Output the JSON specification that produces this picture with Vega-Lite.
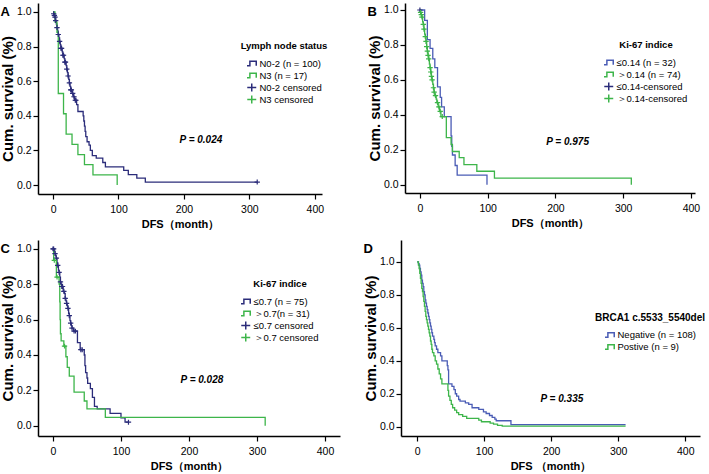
{
"$schema": "https://vega.github.io/schema/vega-lite/v6.json",
"padding": {"left": 0, "top": 3, "right": 0, "bottom": 0},
"background": "white",
"config": {
  "font": "Liberation Sans",
  "view": {"stroke": null},
  "axis": {"grid": false, "domainColor": "#000", "domainWidth": 1.5, "tickColor": "#000", "tickWidth": 1.2, "tickSize": 5, "labelColor": "#000", "labelFontSize": 10.5, "labelFont": "Liberation Sans", "titleFont": "Liberation Sans", "titleColor": "#000", "titleFontWeight": "bold", "labelOverlap": false},
  "axisX": {"titleFontSize": 11, "titlePadding": 4, "labelPadding": 5},
  "axisY": {"titleFontSize": 15, "titlePadding": 1, "labelPadding": 2},
  "legend": {"titleFontSize": 9.5, "titleFontWeight": "bold", "titleColor": "#000", "labelFontSize": 9.5, "labelColor": "#000", "symbolSize": 56, "symbolStrokeWidth": 1.5, "rowPadding": 2, "clipHeight": 10, "titleAnchor": "middle", "titlePadding": 8, "labelOffset": 3, "padding": 0},
  "title": {"fontSize": 13, "fontWeight": "bold", "color": "#000", "anchor": "start", "frame": "bounds"}
},
"spacing": 10,
"resolve": {"scale": {"color": "independent", "shape": "independent"}, "legend": {"color": "independent", "shape": "independent"}},
"vconcat": [
{"spacing": 39,
 "resolve": {"scale": {"color": "independent", "shape": "independent"}, "legend": {"color": "independent", "shape": "independent"}},
 "hconcat": [
{
  "width": 284, "height": 191,
  "title": {"text": "A", "offset": -16},
  "layer": [
    {"data": {"values": [
      {"series":"N0-2 (n = 100)","t":0,"s":1},{"series":"N0-2 (n = 100)","t":1,"s":0.99},{"series":"N0-2 (n = 100)","t":2,"s":0.98},{"series":"N0-2 (n = 100)","t":3,"s":0.97},{"series":"N0-2 (n = 100)","t":4,"s":0.95},{"series":"N0-2 (n = 100)","t":5,"s":0.93},{"series":"N0-2 (n = 100)","t":6,"s":0.91},{"series":"N0-2 (n = 100)","t":7,"s":0.89},{"series":"N0-2 (n = 100)","t":8,"s":0.87},{"series":"N0-2 (n = 100)","t":9,"s":0.85},{"series":"N0-2 (n = 100)","t":10,"s":0.83},{"series":"N0-2 (n = 100)","t":11,"s":0.81},{"series":"N0-2 (n = 100)","t":12,"s":0.79},{"series":"N0-2 (n = 100)","t":14,"s":0.77},{"series":"N0-2 (n = 100)","t":15,"s":0.75},{"series":"N0-2 (n = 100)","t":17,"s":0.73},{"series":"N0-2 (n = 100)","t":18,"s":0.71},{"series":"N0-2 (n = 100)","t":20,"s":0.69},{"series":"N0-2 (n = 100)","t":21,"s":0.67},{"series":"N0-2 (n = 100)","t":22,"s":0.65},{"series":"N0-2 (n = 100)","t":23,"s":0.63},{"series":"N0-2 (n = 100)","t":24,"s":0.61},{"series":"N0-2 (n = 100)","t":25,"s":0.59},{"series":"N0-2 (n = 100)","t":26,"s":0.57},{"series":"N0-2 (n = 100)","t":27,"s":0.55},{"series":"N0-2 (n = 100)","t":29,"s":0.53},{"series":"N0-2 (n = 100)","t":31,"s":0.51},{"series":"N0-2 (n = 100)","t":33,"s":0.49},{"series":"N0-2 (n = 100)","t":36,"s":0.465},{"series":"N0-2 (n = 100)","t":38,"s":0.425},{"series":"N0-2 (n = 100)","t":46,"s":0.4},{"series":"N0-2 (n = 100)","t":47,"s":0.37},{"series":"N0-2 (n = 100)","t":48,"s":0.34},{"series":"N0-2 (n = 100)","t":49,"s":0.31},{"series":"N0-2 (n = 100)","t":50,"s":0.28},{"series":"N0-2 (n = 100)","t":52,"s":0.25},{"series":"N0-2 (n = 100)","t":55,"s":0.23},{"series":"N0-2 (n = 100)","t":57,"s":0.2},{"series":"N0-2 (n = 100)","t":60,"s":0.17},{"series":"N0-2 (n = 100)","t":66,"s":0.155},{"series":"N0-2 (n = 100)","t":76,"s":0.13},{"series":"N0-2 (n = 100)","t":80,"s":0.105},{"series":"N0-2 (n = 100)","t":108,"s":0.085},{"series":"N0-2 (n = 100)","t":115,"s":0.06},{"series":"N0-2 (n = 100)","t":128,"s":0.04},{"series":"N0-2 (n = 100)","t":141,"s":0.017},{"series":"N0-2 (n = 100)","t":312,"s":0.017},
      {"series":"N3 (n = 17)","t":0,"s":1},{"series":"N3 (n = 17)","t":3,"s":0.941},{"series":"N3 (n = 17)","t":6,"s":0.882},{"series":"N3 (n = 17)","t":8,"s":0.529},{"series":"N3 (n = 17)","t":16,"s":0.412},{"series":"N3 (n = 17)","t":20,"s":0.294},{"series":"N3 (n = 17)","t":29,"s":0.235},{"series":"N3 (n = 17)","t":38,"s":0.176},{"series":"N3 (n = 17)","t":48,"s":0.118},{"series":"N3 (n = 17)","t":61,"s":0.059},{"series":"N3 (n = 17)","t":98,"s":0}
    ]},
    "mark": {"type": "line", "interpolate": "step-after", "strokeWidth": 1.3},
    "encoding": {
      "x": {"field": "t", "type": "quantitative", "scale": {"domain": [-23, 411], "nice": false, "zero": false}, "axis": {"values": [0,100,200,300,400], "title": "DFS（month）"}},
      "y": {"field": "s", "type": "quantitative", "scale": {"domain": [-0.052, 1.052], "nice": false, "zero": false}, "axis": {"tickCount": 5, "format": ".1f", "title": "Cum. survival (%)"}},
      "color": {"field": "series", "type": "nominal", "scale": {"domain": ["N0-2 (n = 100)","N3 (n = 17)","N0-2 censored","N3 censored"], "range": ["#2b2c7a","#3db54a","#2b2c7a","#3db54a"]}, "legend": {"title": "Lymph node status", "orient": "none", "legendX": 203, "legendY": 38}}
    }},
    {"data": {"values": [
      {"series":"N0-2 censored","t":1,"s":0.99},{"series":"N0-2 censored","t":2,"s":0.98},{"series":"N0-2 censored","t":3,"s":0.97},{"series":"N0-2 censored","t":4,"s":0.95},{"series":"N0-2 censored","t":6,"s":0.91},{"series":"N0-2 censored","t":8,"s":0.87},{"series":"N0-2 censored","t":10,"s":0.83},{"series":"N0-2 censored","t":12,"s":0.79},{"series":"N0-2 censored","t":13,"s":0.79},{"series":"N0-2 censored","t":15,"s":0.75},{"series":"N0-2 censored","t":16,"s":0.75},{"series":"N0-2 censored","t":18,"s":0.71},{"series":"N0-2 censored","t":19,"s":0.71},{"series":"N0-2 censored","t":21,"s":0.67},{"series":"N0-2 censored","t":23,"s":0.63},{"series":"N0-2 censored","t":25,"s":0.59},{"series":"N0-2 censored","t":27,"s":0.55},{"series":"N0-2 censored","t":28,"s":0.55},{"series":"N0-2 censored","t":30,"s":0.53},{"series":"N0-2 censored","t":32,"s":0.51},{"series":"N0-2 censored","t":34,"s":0.49},{"series":"N0-2 censored","t":35,"s":0.49},{"series":"N0-2 censored","t":312,"s":0.017}
    ]},
    "mark": {"type": "point", "filled": false, "strokeWidth": 1.2, "size": 20, "opacity": 1},
    "encoding": {
      "x": {"field": "t", "type": "quantitative"},
      "y": {"field": "s", "type": "quantitative"},
      "color": {"field": "series", "type": "nominal"},
      "shape": {"field": "series", "type": "nominal", "scale": {"domain": ["N0-2 (n = 100)","N3 (n = 17)","N0-2 censored","N3 censored"], "range": ["M-1.4,0.6H-0.5V-0.6H1.2V0.6","M-1.4,0.6H-0.5V-0.6H1.2V0.6","M-1.2,0H1.2M0,-1.1V1.1","M-1.2,0H1.2M0,-1.1V1.1"]}}
    }},
    {"data": {"values": [{"t": 226, "s": 0.26, "label": "P = 0.024"}]},
    "mark": {"type": "text", "fontWeight": "bold", "fontStyle": "italic", "fontSize": 10, "color": "#000"},
    "encoding": {"x": {"field": "t", "type": "quantitative"}, "y": {"field": "s", "type": "quantitative"}, "text": {"field": "label"}}}
  ]
},
{
  "width": 290, "height": 190,
  "title": {"text": "B", "offset": -16},
  "layer": [
    {"data": {"values": [
      {"series":"≤0.14 (n = 32)","t":0,"s":1},{"series":"≤0.14 (n = 32)","t":7,"s":0.94},{"series":"≤0.14 (n = 32)","t":11,"s":0.83},{"series":"≤0.14 (n = 32)","t":15,"s":0.78},{"series":"≤0.14 (n = 32)","t":19,"s":0.72},{"series":"≤0.14 (n = 32)","t":22,"s":0.67},{"series":"≤0.14 (n = 32)","t":26,"s":0.56},{"series":"≤0.14 (n = 32)","t":30,"s":0.5},{"series":"≤0.14 (n = 32)","t":32,"s":0.445},{"series":"≤0.14 (n = 32)","t":36,"s":0.39},{"series":"≤0.14 (n = 32)","t":46,"s":0.28},{"series":"≤0.14 (n = 32)","t":47,"s":0.22},{"series":"≤0.14 (n = 32)","t":48,"s":0.17},{"series":"≤0.14 (n = 32)","t":52,"s":0.11},{"series":"≤0.14 (n = 32)","t":55,"s":0.055},{"series":"≤0.14 (n = 32)","t":99,"s":0},
      {"series":"＞0.14 (n = 74)","t":0,"s":1},{"series":"＞0.14 (n = 74)","t":1,"s":0.986},{"series":"＞0.14 (n = 74)","t":2,"s":0.973},{"series":"＞0.14 (n = 74)","t":3,"s":0.959},{"series":"＞0.14 (n = 74)","t":4,"s":0.932},{"series":"＞0.14 (n = 74)","t":5,"s":0.918},{"series":"＞0.14 (n = 74)","t":6,"s":0.89},{"series":"＞0.14 (n = 74)","t":7,"s":0.862},{"series":"＞0.14 (n = 74)","t":8,"s":0.848},{"series":"＞0.14 (n = 74)","t":9,"s":0.82},{"series":"＞0.14 (n = 74)","t":10,"s":0.79},{"series":"＞0.14 (n = 74)","t":11,"s":0.765},{"series":"＞0.14 (n = 74)","t":12,"s":0.74},{"series":"＞0.14 (n = 74)","t":13,"s":0.72},{"series":"＞0.14 (n = 74)","t":14,"s":0.69},{"series":"＞0.14 (n = 74)","t":15,"s":0.67},{"series":"＞0.14 (n = 74)","t":16,"s":0.645},{"series":"＞0.14 (n = 74)","t":17,"s":0.62},{"series":"＞0.14 (n = 74)","t":18,"s":0.6},{"series":"＞0.14 (n = 74)","t":19,"s":0.575},{"series":"＞0.14 (n = 74)","t":20,"s":0.555},{"series":"＞0.14 (n = 74)","t":21,"s":0.53},{"series":"＞0.14 (n = 74)","t":22,"s":0.51},{"series":"＞0.14 (n = 74)","t":24,"s":0.49},{"series":"＞0.14 (n = 74)","t":25,"s":0.47},{"series":"＞0.14 (n = 74)","t":27,"s":0.445},{"series":"＞0.14 (n = 74)","t":29,"s":0.42},{"series":"＞0.14 (n = 74)","t":31,"s":0.39},{"series":"＞0.14 (n = 74)","t":39,"s":0.27},{"series":"＞0.14 (n = 74)","t":46,"s":0.23},{"series":"＞0.14 (n = 74)","t":48,"s":0.19},{"series":"＞0.14 (n = 74)","t":58,"s":0.155},{"series":"＞0.14 (n = 74)","t":65,"s":0.115},{"series":"＞0.14 (n = 74)","t":84,"s":0.077},{"series":"＞0.14 (n = 74)","t":110,"s":0.038},{"series":"＞0.14 (n = 74)","t":312,"s":0}
    ]},
    "mark": {"type": "line", "interpolate": "step-after", "strokeWidth": 1.3},
    "encoding": {
      "x": {"field": "t", "type": "quantitative", "scale": {"domain": [-22, 406], "nice": false, "zero": false}, "axis": {"values": [0,100,200,300,400], "title": "DFS（month）"}},
      "y": {"field": "s", "type": "quantitative", "scale": {"domain": [-0.0475, 1.04], "nice": false, "zero": false}, "axis": {"tickCount": 5, "format": ".1f", "title": "Cum. survival (%)"}},
      "color": {"field": "series", "type": "nominal", "scale": {"domain": ["≤0.14 (n = 32)","＞0.14 (n = 74)","≤0.14-censored","＞0.14-censored"], "range": ["#4a5cb5","#3db54a","#2b2c7a","#3db54a"]}, "legend": {"title": "Ki-67 indice", "orient": "none", "legendX": 199, "legendY": 37}}
    }},
    {"data": {"values": [
      {"series":"≤0.14-censored","t":0,"s":1},
      {"series":"＞0.14-censored","t":1,"s":0.986},{"series":"＞0.14-censored","t":2,"s":0.973},{"series":"＞0.14-censored","t":3,"s":0.959},{"series":"＞0.14-censored","t":5,"s":0.918},{"series":"＞0.14-censored","t":6,"s":0.89},{"series":"＞0.14-censored","t":8,"s":0.848},{"series":"＞0.14-censored","t":9,"s":0.82},{"series":"＞0.14-censored","t":10,"s":0.79},{"series":"＞0.14-censored","t":11,"s":0.765},{"series":"＞0.14-censored","t":12,"s":0.74},{"series":"＞0.14-censored","t":13,"s":0.72},{"series":"＞0.14-censored","t":15,"s":0.67},{"series":"＞0.14-censored","t":16,"s":0.645},{"series":"＞0.14-censored","t":17,"s":0.62},{"series":"＞0.14-censored","t":18,"s":0.6},{"series":"＞0.14-censored","t":20,"s":0.555},{"series":"＞0.14-censored","t":21,"s":0.53},{"series":"＞0.14-censored","t":23,"s":0.51},{"series":"＞0.14-censored","t":26,"s":0.47},{"series":"＞0.14-censored","t":28,"s":0.445},{"series":"＞0.14-censored","t":30,"s":0.42},{"series":"＞0.14-censored","t":33,"s":0.39}
    ]},
    "mark": {"type": "point", "filled": false, "strokeWidth": 1.2, "size": 20, "opacity": 1},
    "encoding": {
      "x": {"field": "t", "type": "quantitative"},
      "y": {"field": "s", "type": "quantitative"},
      "color": {"field": "series", "type": "nominal"},
      "shape": {"field": "series", "type": "nominal", "scale": {"domain": ["≤0.14 (n = 32)","＞0.14 (n = 74)","≤0.14-censored","＞0.14-censored"], "range": ["M-1.4,0.6H-0.5V-0.6H1.2V0.6","M-1.4,0.6H-0.5V-0.6H1.2V0.6","M-1.2,0H1.2M0,-1.1V1.1","M-1.2,0H1.2M0,-1.1V1.1"]}}
    }},
    {"data": {"values": [{"t": 218, "s": 0.246, "label": "P = 0.975"}]},
    "mark": {"type": "text", "fontWeight": "bold", "fontStyle": "italic", "fontSize": 10, "color": "#000"},
    "encoding": {"x": {"field": "t", "type": "quantitative"}, "y": {"field": "s", "type": "quantitative"}, "text": {"field": "label"}}}
  ]
}
]},
{"spacing": 23,
 "resolve": {"scale": {"color": "independent", "shape": "independent"}, "legend": {"color": "independent", "shape": "independent"}},
 "hconcat": [
{
  "width": 302, "height": 196,
  "title": {"text": "C", "offset": -16},
  "layer": [
    {"data": {"values": [
      {"series":"≤0.7 (n = 75)","t":0,"s":1},{"series":"≤0.7 (n = 75)","t":2,"s":0.987},{"series":"≤0.7 (n = 75)","t":3,"s":0.973},{"series":"≤0.7 (n = 75)","t":4,"s":0.96},{"series":"≤0.7 (n = 75)","t":5,"s":0.947},{"series":"≤0.7 (n = 75)","t":6,"s":0.92},{"series":"≤0.7 (n = 75)","t":7,"s":0.907},{"series":"≤0.7 (n = 75)","t":8,"s":0.88},{"series":"≤0.7 (n = 75)","t":9,"s":0.867},{"series":"≤0.7 (n = 75)","t":10,"s":0.84},{"series":"≤0.7 (n = 75)","t":11,"s":0.813},{"series":"≤0.7 (n = 75)","t":12,"s":0.8},{"series":"≤0.7 (n = 75)","t":13,"s":0.787},{"series":"≤0.7 (n = 75)","t":15,"s":0.76},{"series":"≤0.7 (n = 75)","t":17,"s":0.747},{"series":"≤0.7 (n = 75)","t":18,"s":0.72},{"series":"≤0.7 (n = 75)","t":19,"s":0.706},{"series":"≤0.7 (n = 75)","t":20,"s":0.692},{"series":"≤0.7 (n = 75)","t":21,"s":0.678},{"series":"≤0.7 (n = 75)","t":22,"s":0.664},{"series":"≤0.7 (n = 75)","t":23,"s":0.636},{"series":"≤0.7 (n = 75)","t":24,"s":0.622},{"series":"≤0.7 (n = 75)","t":25,"s":0.594},{"series":"≤0.7 (n = 75)","t":26,"s":0.58},{"series":"≤0.7 (n = 75)","t":27,"s":0.566},{"series":"≤0.7 (n = 75)","t":28,"s":0.552},{"series":"≤0.7 (n = 75)","t":30,"s":0.535},{"series":"≤0.7 (n = 75)","t":36,"s":0.47},{"series":"≤0.7 (n = 75)","t":40,"s":0.43},{"series":"≤0.7 (n = 75)","t":46,"s":0.4},{"series":"≤0.7 (n = 75)","t":47,"s":0.34},{"series":"≤0.7 (n = 75)","t":48,"s":0.3},{"series":"≤0.7 (n = 75)","t":50,"s":0.27},{"series":"≤0.7 (n = 75)","t":51,"s":0.24},{"series":"≤0.7 (n = 75)","t":55,"s":0.21},{"series":"≤0.7 (n = 75)","t":58,"s":0.16},{"series":"≤0.7 (n = 75)","t":61,"s":0.11},{"series":"≤0.7 (n = 75)","t":65,"s":0.095},{"series":"≤0.7 (n = 75)","t":84,"s":0.07},{"series":"≤0.7 (n = 75)","t":100,"s":0.045},{"series":"≤0.7 (n = 75)","t":106,"s":0.02},{"series":"≤0.7 (n = 75)","t":111,"s":0.02},
      {"series":"＞0.7(n = 31)","t":0,"s":1},{"series":"＞0.7(n = 31)","t":1,"s":0.935},{"series":"＞0.7(n = 31)","t":5,"s":0.84},{"series":"＞0.7(n = 31)","t":9,"s":0.8},{"series":"＞0.7(n = 31)","t":10,"s":0.7},{"series":"＞0.7(n = 31)","t":10.5,"s":0.6},{"series":"＞0.7(n = 31)","t":11,"s":0.52},{"series":"＞0.7(n = 31)","t":12,"s":0.48},{"series":"＞0.7(n = 31)","t":16,"s":0.45},{"series":"＞0.7(n = 31)","t":19,"s":0.39},{"series":"＞0.7(n = 31)","t":21,"s":0.33},{"series":"＞0.7(n = 31)","t":24,"s":0.28},{"series":"＞0.7(n = 31)","t":31,"s":0.19},{"series":"＞0.7(n = 31)","t":46,"s":0.14},{"series":"＞0.7(n = 31)","t":50,"s":0.095},{"series":"＞0.7(n = 31)","t":77,"s":0.047},{"series":"＞0.7(n = 31)","t":312,"s":0}
    ]},
    "mark": {"type": "line", "interpolate": "step-after", "strokeWidth": 1.3},
    "encoding": {
      "x": {"field": "t", "type": "quantitative", "scale": {"domain": [-22, 422], "nice": false, "zero": false}, "axis": {"values": [0,100,200,300,400], "title": "DFS（month）"}},
      "y": {"field": "s", "type": "quantitative", "scale": {"domain": [-0.058, 1.05], "nice": false, "zero": false}, "axis": {"tickCount": 5, "format": ".1f", "title": "Cum. survival (%)"}},
      "color": {"field": "series", "type": "nominal", "scale": {"domain": ["≤0.7 (n = 75)","＞0.7(n = 31)","≤0.7 censored","＞0.7 censored"], "range": ["#2b2c7a","#3db54a","#2b2c7a","#3db54a"]}, "legend": {"title": "Ki-67 indice", "orient": "none", "legendX": 203, "legendY": 39}}
    }},
    {"data": {"values": [
      {"series":"≤0.7 censored","t":0,"s":1},{"series":"≤0.7 censored","t":1,"s":1},{"series":"≤0.7 censored","t":3,"s":0.973},{"series":"≤0.7 censored","t":5,"s":0.947},{"series":"≤0.7 censored","t":7,"s":0.907},{"series":"≤0.7 censored","t":9,"s":0.867},{"series":"≤0.7 censored","t":11,"s":0.813},{"series":"≤0.7 censored","t":13,"s":0.787},{"series":"≤0.7 censored","t":14,"s":0.787},{"series":"≤0.7 censored","t":16,"s":0.76},{"series":"≤0.7 censored","t":18,"s":0.72},{"series":"≤0.7 censored","t":20,"s":0.692},{"series":"≤0.7 censored","t":22,"s":0.664},{"series":"≤0.7 censored","t":24,"s":0.622},{"series":"≤0.7 censored","t":26,"s":0.58},{"series":"≤0.7 censored","t":28,"s":0.552},{"series":"≤0.7 censored","t":31,"s":0.535},{"series":"≤0.7 censored","t":33,"s":0.535},{"series":"≤0.7 censored","t":41,"s":0.43},{"series":"≤0.7 censored","t":43,"s":0.43},{"series":"≤0.7 censored","t":111,"s":0.02},
      {"series":"＞0.7 censored","t":2,"s":0.935},{"series":"＞0.7 censored","t":6,"s":0.84},{"series":"＞0.7 censored","t":17,"s":0.45}
    ]},
    "mark": {"type": "point", "filled": false, "strokeWidth": 1.2, "size": 20, "opacity": 1},
    "encoding": {
      "x": {"field": "t", "type": "quantitative"},
      "y": {"field": "s", "type": "quantitative"},
      "color": {"field": "series", "type": "nominal"},
      "shape": {"field": "series", "type": "nominal", "scale": {"domain": ["≤0.7 (n = 75)","＞0.7(n = 31)","≤0.7 censored","＞0.7 censored"], "range": ["M-1.4,0.6H-0.5V-0.6H1.2V0.6","M-1.4,0.6H-0.5V-0.6H1.2V0.6","M-1.2,0H1.2M0,-1.1V1.1","M-1.2,0H1.2M0,-1.1V1.1"]}}
    }},
    {"data": {"values": [{"t": 219, "s": 0.258, "label": "P = 0.028"}]},
    "mark": {"type": "text", "fontWeight": "bold", "fontStyle": "italic", "fontSize": 10, "color": "#000"},
    "encoding": {"x": {"field": "t", "type": "quantitative"}, "y": {"field": "s", "type": "quantitative"}, "text": {"field": "label"}}}
  ]
},
{
  "width": 299, "height": 196,
  "title": {"text": "D", "offset": -16},
  "layer": [
    {"data": {"values": [
      {"series":"Negative (n = 108)","t":0,"s":1},{"series":"Negative (n = 108)","t":2,"s":0.99},{"series":"Negative (n = 108)","t":3,"s":0.98},{"series":"Negative (n = 108)","t":4,"s":0.96},{"series":"Negative (n = 108)","t":5,"s":0.94},{"series":"Negative (n = 108)","t":6,"s":0.92},{"series":"Negative (n = 108)","t":7,"s":0.89},{"series":"Negative (n = 108)","t":8,"s":0.87},{"series":"Negative (n = 108)","t":9,"s":0.85},{"series":"Negative (n = 108)","t":10,"s":0.82},{"series":"Negative (n = 108)","t":11,"s":0.8},{"series":"Negative (n = 108)","t":12,"s":0.77},{"series":"Negative (n = 108)","t":13,"s":0.75},{"series":"Negative (n = 108)","t":14,"s":0.73},{"series":"Negative (n = 108)","t":15,"s":0.71},{"series":"Negative (n = 108)","t":16,"s":0.69},{"series":"Negative (n = 108)","t":17,"s":0.67},{"series":"Negative (n = 108)","t":18,"s":0.65},{"series":"Negative (n = 108)","t":19,"s":0.63},{"series":"Negative (n = 108)","t":20,"s":0.61},{"series":"Negative (n = 108)","t":21,"s":0.59},{"series":"Negative (n = 108)","t":22,"s":0.57},{"series":"Negative (n = 108)","t":23,"s":0.55},{"series":"Negative (n = 108)","t":25,"s":0.53},{"series":"Negative (n = 108)","t":26,"s":0.51},{"series":"Negative (n = 108)","t":27,"s":0.49},{"series":"Negative (n = 108)","t":29,"s":0.47},{"series":"Negative (n = 108)","t":31,"s":0.45},{"series":"Negative (n = 108)","t":35,"s":0.43},{"series":"Negative (n = 108)","t":37,"s":0.4},{"series":"Negative (n = 108)","t":45,"s":0.37},{"series":"Negative (n = 108)","t":46,"s":0.345},{"series":"Negative (n = 108)","t":47,"s":0.26},{"series":"Negative (n = 108)","t":52,"s":0.245},{"series":"Negative (n = 108)","t":55,"s":0.225},{"series":"Negative (n = 108)","t":57,"s":0.2},{"series":"Negative (n = 108)","t":59,"s":0.185},{"series":"Negative (n = 108)","t":62,"s":0.165},{"series":"Negative (n = 108)","t":64,"s":0.155},{"series":"Negative (n = 108)","t":72,"s":0.145},{"series":"Negative (n = 108)","t":77,"s":0.135},{"series":"Negative (n = 108)","t":82,"s":0.115},{"series":"Negative (n = 108)","t":92,"s":0.105},{"series":"Negative (n = 108)","t":99,"s":0.09},{"series":"Negative (n = 108)","t":103,"s":0.08},{"series":"Negative (n = 108)","t":108,"s":0.068},{"series":"Negative (n = 108)","t":112,"s":0.057},{"series":"Negative (n = 108)","t":116,"s":0.046},{"series":"Negative (n = 108)","t":118,"s":0.036},{"series":"Negative (n = 108)","t":140,"s":0.012},{"series":"Negative (n = 108)","t":311,"s":0.012},
      {"series":"Postive (n = 9)","t":0,"s":1},{"series":"Postive (n = 9)","t":2,"s":0.98},{"series":"Postive (n = 9)","t":3,"s":0.96},{"series":"Postive (n = 9)","t":4,"s":0.93},{"series":"Postive (n = 9)","t":5,"s":0.9},{"series":"Postive (n = 9)","t":6,"s":0.87},{"series":"Postive (n = 9)","t":7,"s":0.84},{"series":"Postive (n = 9)","t":8,"s":0.82},{"series":"Postive (n = 9)","t":9,"s":0.79},{"series":"Postive (n = 9)","t":10,"s":0.76},{"series":"Postive (n = 9)","t":11,"s":0.73},{"series":"Postive (n = 9)","t":12,"s":0.7},{"series":"Postive (n = 9)","t":13,"s":0.67},{"series":"Postive (n = 9)","t":14,"s":0.65},{"series":"Postive (n = 9)","t":15,"s":0.63},{"series":"Postive (n = 9)","t":16,"s":0.61},{"series":"Postive (n = 9)","t":17,"s":0.59},{"series":"Postive (n = 9)","t":18,"s":0.57},{"series":"Postive (n = 9)","t":19,"s":0.55},{"series":"Postive (n = 9)","t":20,"s":0.52},{"series":"Postive (n = 9)","t":21,"s":0.5},{"series":"Postive (n = 9)","t":22,"s":0.47},{"series":"Postive (n = 9)","t":23,"s":0.45},{"series":"Postive (n = 9)","t":25,"s":0.43},{"series":"Postive (n = 9)","t":27,"s":0.4},{"series":"Postive (n = 9)","t":29,"s":0.38},{"series":"Postive (n = 9)","t":31,"s":0.35},{"series":"Postive (n = 9)","t":33,"s":0.32},{"series":"Postive (n = 9)","t":35,"s":0.29},{"series":"Postive (n = 9)","t":37,"s":0.26},{"series":"Postive (n = 9)","t":46,"s":0.22},{"series":"Postive (n = 9)","t":47,"s":0.185},{"series":"Postive (n = 9)","t":49,"s":0.16},{"series":"Postive (n = 9)","t":51,"s":0.135},{"series":"Postive (n = 9)","t":53,"s":0.115},{"series":"Postive (n = 9)","t":56,"s":0.1},{"series":"Postive (n = 9)","t":59,"s":0.085},{"series":"Postive (n = 9)","t":62,"s":0.073},{"series":"Postive (n = 9)","t":68,"s":0.063},{"series":"Postive (n = 9)","t":74,"s":0.05},{"series":"Postive (n = 9)","t":92,"s":0.04},{"series":"Postive (n = 9)","t":96,"s":0.03},{"series":"Postive (n = 9)","t":109,"s":0.022},{"series":"Postive (n = 9)","t":114,"s":0.015},{"series":"Postive (n = 9)","t":120,"s":0.008},{"series":"Postive (n = 9)","t":127,"s":0.003},{"series":"Postive (n = 9)","t":311,"s":0.003}
    ]},
    "mark": {"type": "line", "interpolate": "step-after", "strokeWidth": 1.3},
    "encoding": {
      "x": {"field": "t", "type": "quantitative", "scale": {"domain": [-24, 422], "nice": false, "zero": false}, "axis": {"values": [0,100,200,300,400], "title": "DFS （month）"}},
      "y": {"field": "s", "type": "quantitative", "scale": {"domain": [-0.0565, 1.133], "nice": false, "zero": false}, "axis": {"tickCount": 5, "format": ".1f", "title": "Cum. survival (%)"}},
      "color": {"field": "series", "type": "nominal", "scale": {"domain": ["Negative (n = 108)","Postive (n = 9)"], "range": ["#4a5cb5","#3db54a"]}, "legend": {"title": "BRCA1 c.5533_5540del", "orient": "none", "legendX": 194, "legendY": 73, "titlePadding": 7, "titleFontSize": 10, "symbolType": "M-1.4,0.6H-0.5V-0.6H1.2V0.6"}}
    }},
    {"data": {"values": [{"t": 216, "s": 0.17, "label": "P = 0.335"}]},
    "mark": {"type": "text", "fontWeight": "bold", "fontStyle": "italic", "fontSize": 10, "color": "#000"},
    "encoding": {"x": {"field": "t", "type": "quantitative"}, "y": {"field": "s", "type": "quantitative"}, "text": {"field": "label"}}}
  ]
}
]}
]
}
